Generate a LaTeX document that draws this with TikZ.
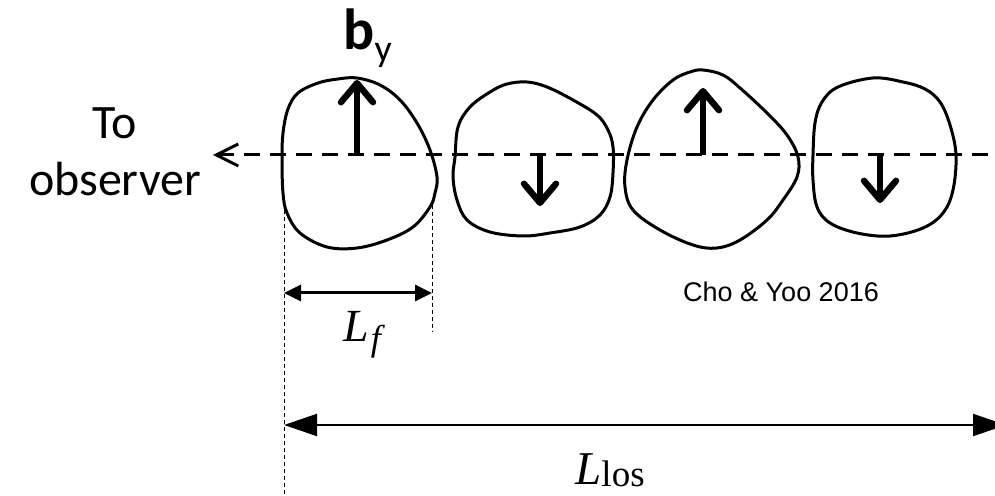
\documentclass[tikz,border=0pt]{standalone}
\usepackage{fontspec}
\usepackage{tikz}
\usetikzlibrary{arrows.meta}
\newfontfamily\carlito{Carlito}
\newfontfamily\arialf{Liberation Sans}
\newfontfamily\timesf{Liberation Serif}

\begin{document}
\begin{tikzpicture}[x=0.5pt, y=-0.5pt,
    blob/.style={line width=1.5pt},
    vec/.style={line width=3.2pt, -{Straight Barb[length=9.5pt, width=16pt, round]}},
    losline/.style={line width=1.5pt, dash pattern=on 8pt off 5pt},
    guide/.style={line width=0.5pt, dash pattern=on 2pt off 1.5pt},
    dimf/.style={line width=1.5pt, {Triangle[length=8.5pt, width=8pt]}-{Triangle[length=8.5pt, width=8pt]}},
    dimlos/.style={line width=1pt, {Triangle[length=16.5pt, width=11pt]}-{Triangle[length=16.5pt, width=11pt]}}]
    \useasboundingbox (0,0) rectangle (995,496);
    \clip (0,0) rectangle (995,496);

    % Line of sight
    \coordinate (tip) at (213,155);
    \coordinate (far) at (995,155);
    \draw[losline, {Straight Barb[length=11pt, width=11pt, line width=1.5pt]}-] (tip) -- (far);
    \node[font=\carlito\fontsize{24}{28.5}\selectfont, align=center, inner sep=0] (obs) at (115,152) {To\\observer};

    % Eddies
    \draw[blob] plot[smooth cycle, tension=0.6] coordinates {(357,78) (380,85) (400,100) (417,123) (430,150) (437,177)
        (435,193) (430,207) (413,227) (387,240) (357,248) (327,247) (300,233) (287,213) (283,193) (282,160)
        (283,133) (288,109) (298,93) (318,83) (338,79)};
    \draw[blob] plot[smooth cycle, tension=0.6] coordinates {(527,82) (547,87) (573,100) (597,115) (608,130) (613,147)
        (613,173) (610,197) (600,215) (580,227) (550,233) (523,236) (490,232) (467,220) (457,200) (453,177)
        (455,157) (458,127) (470,107) (490,92) (507,84)};
    \draw[blob] plot[smooth cycle, tension=0.6] coordinates {(703,70) (723,75) (740,88) (767,113) (787,135) (798,157)
        (797,177) (783,200) (767,220) (740,240) (717,248) (693,245) (660,230) (633,210) (625,187) (627,160)
        (637,127) (653,100) (673,80) (690,72)};
    \draw[blob] plot[smooth cycle, tension=0.6] coordinates {(873,78) (903,82) (925,89) (940,102) (950,125)
        (956,155) (953,190) (943,213) (923,228) (890,236) (857,233) (830,223) (817,207) (813,180) (813,155)
        (815,123) (822,102) (838,87)};

    % Field vectors
    \draw[vec] (357,155) -- (357,80);
    \draw[vec] (540,155) -- (540,206);
    \draw[vec] (703,155) -- (703,88);
    \draw[vec] (880,155) -- (880,203);
    \node[anchor=base west, inner sep=0] (by) at (343,50)
        {{\carlito\bfseries\fontsize{29}{29}\selectfont b}\raisebox{-6pt}{\carlito\fontsize{19}{19}\selectfont y}};

    % Scales
    \draw[guide] (284,203) -- (284,496);
    \draw[guide] (432,205) -- (432,332);
    \coordinate (lf-a) at (284,293);
    \coordinate (lf-b) at (432,293);
    \draw[dimf] (lf-a) -- (lf-b);
    \node[anchor=base, inner sep=0] (lf) at (362,342)
        {{\timesf\itshape\fontsize{23}{23}\selectfont L}\hspace{1pt}\raisebox{-4.5pt}{\timesf\itshape\fontsize{18}{18}\selectfont f}};
    \coordinate (los-a) at (284,425);
    \coordinate (los-b) at (1006,425);
    \draw[dimlos] (los-a) -- (los-b);
    \node[anchor=base, inner sep=0] (llos) at (610,484)
        {{\timesf\itshape\fontsize{23.5}{23.5}\selectfont L}\raisebox{-1pt}{\timesf\fontsize{18.5}{18.5}\selectfont los}};

    \node[anchor=base, inner sep=0, font=\arialf\fontsize{13.5}{13.5}\selectfont] (ref) at (781,302) {Cho \& Yoo 2016};
\end{tikzpicture}
\end{document}
